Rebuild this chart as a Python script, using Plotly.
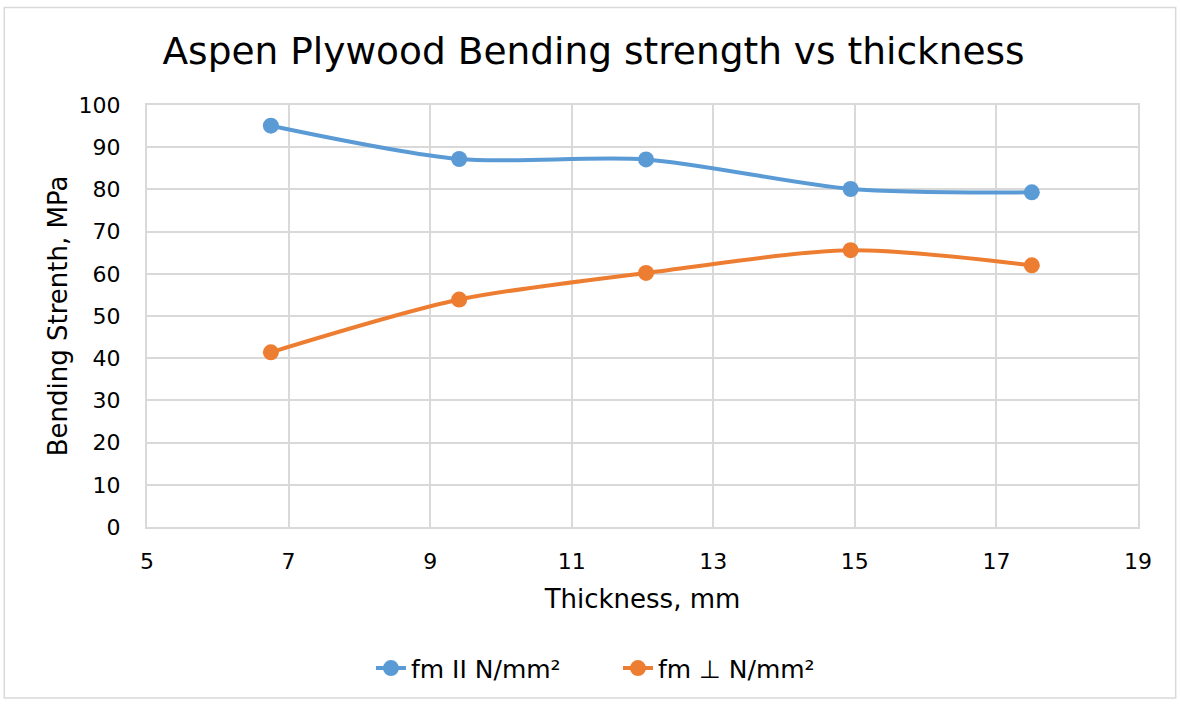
import plotly.graph_objects as go

thickness = [6.75, 9.41, 12.05, 14.94, 17.5]
fm_parallel = [95.1, 87.2, 87.1, 80.1, 79.3]
fm_perp = [41.4, 53.9, 60.2, 65.6, 62.0]

FONT = "DejaVu Sans"
BLUE = "#5B9BD5"
ORANGE = "#ED7D31"

fig = go.Figure()
fig.add_trace(go.Scatter(x=thickness, y=fm_parallel, name="fm II N/mm²",
                         mode="lines+markers",
                         line=dict(color=BLUE, width=4, shape="spline", smoothing=0.8),
                         marker=dict(size=16, color=BLUE)))
fig.add_trace(go.Scatter(x=thickness, y=fm_perp, name="fm ⊥ N/mm²",
                         mode="lines+markers",
                         line=dict(color=ORANGE, width=4, shape="spline", smoothing=0.8),
                         marker=dict(size=16, color=ORANGE)))

fig.update_layout(
    width=1180, height=704,
    margin=dict(l=147, r=42, t=105, b=174),
    paper_bgcolor="white", plot_bgcolor="white",
    font=dict(family=FONT, size=22, color="#000000"),
    title=dict(text="Aspen Plywood Bending strength vs thickness",
               x=0.503, xanchor="center", y=0.928, yanchor="middle",
               font=dict(family=FONT, size=37.5, color="#000000")),
    xaxis=dict(range=[5, 19], dtick=2, tick0=5, showgrid=True, gridcolor="#D9D9D9", gridwidth=2,
               showline=True, linecolor="#D9D9D9", linewidth=2, mirror=True, zeroline=False,
               ticks="", ticklabelstandoff=14,
               title=dict(text="Thickness, mm", font=dict(size=26), standoff=16)),
    yaxis=dict(range=[0, 100], dtick=10, showgrid=True, gridcolor="#D9D9D9", gridwidth=2,
               showline=True, linecolor="#D9D9D9", linewidth=2, mirror=True, zeroline=False,
               ticks="", ticklabelstandoff=20,
               title=dict(text="Bending Strenth, MPa", font=dict(size=26), standoff=3)),
    legend=dict(orientation="h", x=0.226, xanchor="left", y=-0.335, yanchor="middle",
                font=dict(size=25), entrywidth=202, entrywidthmode="pixels"),
    showlegend=True,
)

fig.add_shape(type="rect", xref="paper", yref="paper",
              x0=-0.144, x1=1.038, y0=-0.405, y1=1.231,
              line=dict(color="#D9D9D9", width=1.5), fillcolor="rgba(0,0,0,0)", layer="below")

fig.write_html("out.html")
